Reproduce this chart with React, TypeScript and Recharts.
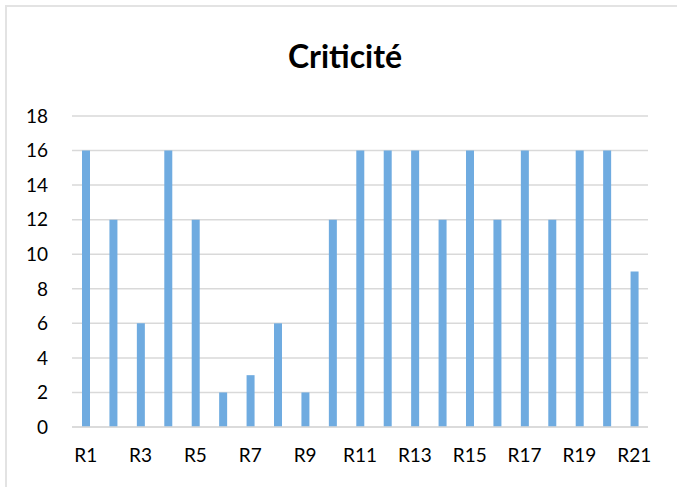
import { BarChart, Bar, XAxis, YAxis, CartesianGrid } from 'recharts';

const risks = ['R1', 'R2', 'R3', 'R4', 'R5', 'R6', 'R7', 'R8', 'R9', 'R10', 'R11', 'R12', 'R13', 'R14', 'R15', 'R16', 'R17', 'R18', 'R19', 'R20', 'R21'];
const criticite = [16, 12, 6, 16, 12, 2, 3, 6, 2, 12, 16, 16, 16, 12, 16, 12, 16, 12, 16, 16, 9];
const yTicks = [0, 2, 4, 6, 8, 10, 12, 14, 16, 18];

const data = risks.map((name, i) => ({ name, value: criticite[i] }));

const font = 'Lato, "Open Sans", sans-serif';

export default function App() {
  return (
    <div
      style={{
        position: 'absolute',
        left: 0,
        top: 0,
        width: 677,
        height: 487,
        overflow: 'hidden',
        background: '#ffffff',
        fontFamily: font,
      }}
    >
      <div
        style={{
          position: 'absolute',
          left: 5,
          top: 5,
          width: 720,
          height: 520,
          border: '2px solid #e3e3e3',
        }}
      />
      <div
        style={{
          position: 'absolute',
          left: 0,
          width: 690,
          top: 37,
          textAlign: 'center',
          fontSize: 32,
          fontWeight: 'bold',
          color: '#000000',
          lineHeight: '38px',
        }}
      >
        Criticité
      </div>
      <div style={{ position: 'absolute', left: 0, top: 0 }}>
        <BarChart
          width={677}
          height={487}
          data={data}
          margin={{ top: 116, right: 29, bottom: 30, left: 0 }}
        >
          <CartesianGrid vertical={false} stroke="#d9d9d9" strokeWidth={1.5} />
          <XAxis
            dataKey="name"
            height={30}
            interval={1}
            tickLine={false}
            axisLine={{ stroke: '#d9d9d9', strokeWidth: 1.5 }}
            tickSize={0}
            tickMargin={22}
            tick={{ fill: '#000000', fontSize: 19, fontFamily: font }}
          />
          <YAxis
            width={72}
            domain={[0, 18]}
            ticks={yTicks}
            interval={0}
            tickLine={false}
            axisLine={false}
            tickSize={0}
            tickMargin={24}
            tick={{ fill: '#000000', fontSize: 19, fontFamily: font }}
          />
          <Bar dataKey="value" fill="#6fabe0" barSize={8} isAnimationActive={false} />
        </BarChart>
      </div>
    </div>
  );
}
